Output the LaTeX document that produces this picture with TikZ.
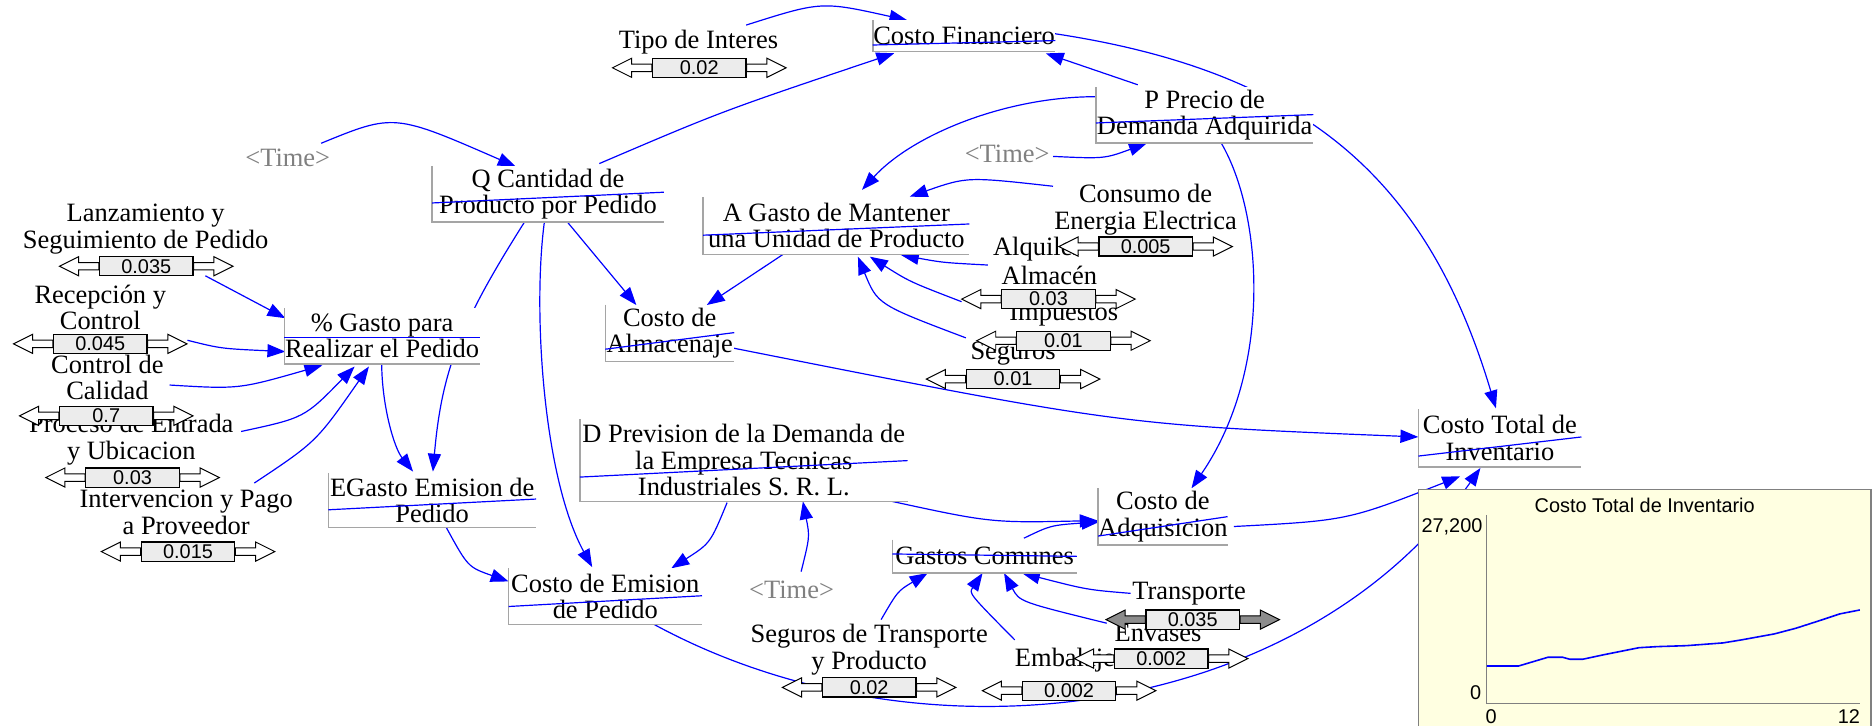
\documentclass[tikz,border=0pt]{standalone}
\usepackage{fontspec}
\setmainfont{Liberation Serif}
\newfontfamily\sansvals{Liberation Sans}
\usetikzlibrary{arrows.meta}
\pgfdeclarelayer{links}
\pgfsetlayers{links,main}

\definecolor{lnkblue}{RGB}{0,0,255}
\definecolor{plotbg}{RGB}{255,255,225}
\definecolor{boxgray}{RGB}{165,165,165}
\definecolor{timegray}{RGB}{128,128,128}
\definecolor{valbox}{RGB}{236,236,236}
\definecolor{knobgray}{RGB}{140,140,140}

\newcommand\varfont{\fontsize{13.3}{13.3}\selectfont}
\newcommand\valfont{\sansvals\fontsize{10}{10}\selectfont}
\newcommand\plotfont{\sansvals\fontsize{10}{10}\selectfont}

\tikzset{
  vbox/.style={rectangle, inner sep=0pt, outer sep=0pt, fill=white, font=\varfont, align=center},
  vsize/.style n args={2}{minimum width=#1*0.6pt, minimum height=#2*0.6pt},
  lbl/.style={inner sep=0pt, font=\varfont, align=center},
  timelbl/.style={lbl, text=timegray},
  lnk/.style={draw=lnkblue, line width=0.6pt, -{Triangle[length=9pt,width=6.6pt]}},
  edgeL/.style={draw=boxgray, line width=0.8pt},
  strike/.style={draw=lnkblue, line width=0.6pt},
  valnode/.style={rectangle, draw=black, line width=0.6pt, fill=valbox,
    minimum width=47pt, minimum height=9.6pt, inner sep=0pt, font=\valfont},
  sarrow/.style={draw=black, line width=0.5pt},
  plotlbl/.style={inner sep=0pt, font=\plotfont},
}

% slider: value box with a hollow double arrow on both sides
\newcommand\slider[5][white]{%
  \node[valnode] (#2) at (#3,#4) {#5};
  \path[sarrow, fill=#1] ([shift={(0,-3.1)}]#2.west) -- ++(-17,0) -- ++(0,-4.9)
    -- ++(-16,8) -- ++(16,8) -- ++(0,-4.9) -- ++(17,0) -- cycle;
  \path[sarrow, fill=#1] ([shift={(0,-3.1)}]#2.east) -- ++(17,0) -- ++(0,-4.9)
    -- ++(16,8) -- ++(-16,8) -- ++(0,-4.9) -- ++(-17,0) -- cycle;
}

\begin{document}
\begin{tikzpicture}[x=0.6pt, y=-0.6pt]
\useasboundingbox (0,0) rectangle (1568,608);

% ---------- auxiliary variables ----------
\node[vbox, vsize={153}{26}]   (cf)  at (807.5,30)    {Costo Financiero};
\node[vbox, vsize={182}{47}]   (pp)  at (1009,96.5)   {P Precio de\\Demanda Adquirida};
\node[vbox, vsize={194}{47}]   (q)   at (459,162.5)   {Q Cantidad de\\Producto por Pedido};
\node[vbox, vsize={223}{48}]   (ag)  at (700.5,189)   {A Gasto de Mantener\\una Unidad de Producto};
\node[vbox, vsize={163.5}{47}] (pg)  at (320,281.5)   {\% Gasto para\\Realizar el Pedido};
\node[vbox, vsize={108}{47.5}] (ca)  at (561,279)     {Costo de\\Almacenaje};
\node[vbox, vsize={174}{46}]   (eg)  at (362,419)     {EGasto Emision de\\Pedido};
\node[vbox, vsize={162}{47}]   (ce)  at (507,499.5)   {Costo de Emision\\de Pedido};
\node[vbox, vsize={274.5}{69}] (dp)  at (623,385.5)   {D Prevision de la Demanda de\\la Empresa Tecnicas\\Industriales S. R. L.};
\node[vbox, vsize={108}{47.5}] (cad) at (974,432.75)  {Costo de\\Adquisicion};
\node[vbox, vsize={154.6}{28}] (gc)  at (824.7,466)   {Gastos Comunes};
\node[vbox, vsize={136.6}{48.4}] (ct) at (1256.3,366.8) {Costo Total de\\Inventario};

\foreach \n in {cf,pp,q,ag,pg,ca,eg,ce,dp,cad,gc,ct}
  \draw[edgeL] (\n.north west) |- (\n.south east);

\draw[strike] ([shift={(0,7.7)}]cf.west)   -- ([shift={(0,4)}]cf.east);
\draw[strike] ([shift={(0,6.5)}]pp.west)   -- ([shift={(0,-0.5)}]pp.east);
\draw[strike] ([shift={(0,7.5)}]q.west)    -- ([shift={(0,-1.5)}]q.east);
\draw[strike] ([shift={(0,8)}]ag.west)     -- ([shift={(0,-1.4)}]ag.east);
\draw[strike] ([shift={(0,1.5)}]pg.west)   -- ([shift={(0,1.5)}]pg.east);
\draw[strike] ([shift={(0,13.5)}]ca.west)  -- ([shift={(0,-0.4)}]ca.east);
\draw[strike] ([shift={(0,8)}]eg.west)     -- ([shift={(0,-1)}]eg.east);
\draw[strike] ([shift={(0,8.5)}]ce.west)   -- ([shift={(0,-0.5)}]ce.east);
\draw[strike] ([shift={(0,14.1)}]dp.west)  -- ([shift={(0,0.3)}]dp.east);
\draw[strike] ([shift={(0,16.25)}]cad.west) -- ([shift={(0,0)}]cad.east);
\draw[strike] ([shift={(0,-2)}]gc.west)    -- ([shift={(0,0)}]gc.east);
\draw[strike] ([shift={(0,15.2)}]ct.west)  -- ([shift={(0,-0.8)}]ct.east);

% ---------- constants and shadow variables ----------
\node[lbl] (ti)  at (585,35)      {Tipo de Interes};
\node[lbl] (lz)  at (122,192)     {Lanzamiento y\\Seguimiento de Pedido};
\node[lbl] (rc)  at (84,257.5)    {Recepción y\\Control};
\node[lbl] (cc)  at (90,316)      {Control de\\Calidad};
\node[lbl] (pe)  at (110,368.4)   {Proceso de Entrada\\y Ubicacion};
\node[lbl] (ip)  at (156,429)     {Intervencion y Pago\\a Proveedor};
\node[lbl] (ee)  at (959.5,175.6) {Consumo de\\Energia Electrica};
\node[lbl, anchor=west] (alq) at (831.5,209) {Alquiler};
\node[lbl] (alm) at (879,231)     {Almacén};
\node[lbl] (im)  at (891,263.8)   {Impuestos};
\node[lbl] (sg)  at (848.6,295.8) {Seguros};
\node[lbl] (st)  at (728,544)     {Seguros de Transporte\\y Producto};
\node[lbl] (tr)  at (996,497)     {Transporte};
\node[lbl] (ev)  at (970,530)     {Envases};
\node[lbl] (em)  at (892,553)     {Embalaje};
\node[timelbl] (t1) at (241,132)   {<Time>};
\node[timelbl] (t2) at (843.6,128.5) {<Time>};
\node[timelbl] (t3) at (663,494)   {<Time>};

% ---------- sliders ----------
\slider{sti}{585.7}{56.8}{0.02}
\slider{slz}{122.5}{223}{0.035}
\slider{src}{84}{288}{0.045}
\slider{scc}{89}{348.3}{0.7}
\slider{spe}{111}{400}{0.03}
\slider{sip}{157.5}{462}{0.015}
\slider{see}{959.6}{206.5}{0.005}
\slider{salq}{878.2}{250.5}{0.03}
\slider{sim}{890.7}{285.4}{0.01}
\slider{ssg}{848.5}{317.5}{0.01}
\slider{sst}{728}{575.8}{0.02}
\slider[knobgray]{str}{999}{519}{0.035}
\slider{sev}{972.6}{551.6}{0.002}
\slider{sem}{895.5}{578.5}{0.002}

% ---------- graph of Costo Total de Inventario ----------
\filldraw[fill=plotbg, draw=timegray, line width=0.8pt] (1188,410) rectangle (1567,612);
\node[plotlbl] (ptitle) at (1377.6,423) {Costo Total de Inventario};
\draw[timegray, line width=0.6pt] (1245.3,431.3) -- (1245.3,589) -- (1557.9,589);
\node[plotlbl, anchor=east] (ymax) at (1242,441)   {27,200};
\node[plotlbl, anchor=east] (ymin) at (1241,580.5) {0};
\node[plotlbl] (xmin) at (1249,600)   {0};
\node[plotlbl] (xmax) at (1548.6,600) {12};
\draw[lnkblue, line width=0.8pt] plot coordinates {
  (1245.3,557.8) (1272.1,557.8) (1296.6,550.5) (1308.8,550.5) (1314.9,552.2)
  (1325.6,552.2) (1342.4,548.6) (1372.9,542.5) (1388.2,541.6) (1412.6,540.8)
  (1443.2,538.5) (1458.5,536) (1486,531) (1504.3,526.2) (1525.7,519.3)
  (1541,514.2) (1557.8,510.9)};

% ---------- causal links ----------
\begin{pgfonlayer}{links}
\draw[lnk] ([shift={(40,-14)}]ti.center) .. controls (688,1) .. ([shift={(-47.5,-13)}]cf.center);
\draw[lnk] ([shift={(43,-25.5)}]q.center) .. controls (604.5,93.2) .. ([shift={(-58.5,14.6)}]cf.center);
\draw[lnk] ([shift={(-56,-25.5)}]pp.center) -- ([shift={(68.5,14.7)}]cf.center);
\draw[lnk] ([shift={(74.5,-2)}]cf.center) .. controls (1090.7,59.3) and (1194.7,147.2) .. ([shift={(-3.3,-24.8)}]ct.center);
\draw[lnk] ([shift={(-91.5,-15.5)}]pp.center) .. controls (843.3,81) and (765,112.2) .. ([shift={(21.5,-30)}]ag.center);
\draw[lnk] ([shift={(38.4,2.5)}]t2.center) .. controls (925,133) .. ([shift={(-48.4,23.5)}]pp.center);
\draw[lnk] ([shift={(14,23.5)}]pp.center) .. controls (1058,180) and (1066,310) .. ([shift={(24,-23.75)}]cad.center);
\draw[lnk] ([shift={(28,-12)}]t1.center) .. controls (330,95) .. ([shift={(-27,-23)}]q.center);
\draw[lnk] ([shift={(50,39)}]lz.center) -- ([shift={(-81,-15)}]pg.center);
\draw[lnk] ([shift={(73,27.5)}]rc.center) .. controls (185,292) .. ([shift={(-81,13)}]pg.center);
\draw[lnk] ([shift={(52,6.5)}]cc.center) .. controls (200,326) .. ([shift={(-50,24.5)}]pg.center);
\draw[lnk] ([shift={(92,-7)}]pe.center) .. controls (255,350) .. ([shift={(-23,25.5)}]pg.center);
\draw[lnk] ([shift={(57,-24.4)}]ip.center) .. controls (265,370) .. ([shift={(-11,25.5)}]pg.center);
\draw[lnk] ([shift={(-20,24)}]q.center) .. controls (385.6,271) and (370,310) .. ([shift={(0.6,-24)}]eg.center);
\draw[lnk] ([shift={(-0.3,23.5)}]pg.center) .. controls (320,340) and (330,375) .. ([shift={(-16,-24)}]eg.center);
\draw[lnk] ([shift={(-3,23.2)}]q.center) .. controls (446,260) and (455,400) .. ([shift={(-11,-24.5)}]ce.center);
\draw[lnk] ([shift={(16,23.2)}]q.center) -- ([shift={(-28,-23.5)}]ca.center);
\draw[lnk] ([shift={(-43,23)}]ag.center) -- ([shift={(31,-23.5)}]ca.center);
\draw[lnk] ([shift={(-77.5,-19.6)}]ee.center) .. controls (810,148) .. ([shift={(61.5,-24.3)}]ag.center);
\draw[lnk] ([shift={(-4,13)}]alq.west) .. controls (790,220) .. ([shift={(54.1,24.6)}]ag.center);
\draw[lnk] ([shift={(-85.6,-11.1)}]im.center) .. controls (762,236) .. ([shift={(28.1,26)}]ag.center);
\draw[lnk] ([shift={(-39.6,-12.8)}]sg.center) .. controls (735,255) .. ([shift={(18.1,26)}]ag.center);
\draw[lnk] ([shift={(53.8,12.7)}]ca.center) .. controls (940,356) .. ([shift={(-68.3,-0.8)}]ct.center);
\draw[lnk] ([shift={(11.9,23)}]eg.center) .. controls (392,475) .. ([shift={(-81,-12.5)}]ce.center);
\draw[lnk] ([shift={(-14,35.5)}]dp.center) .. controls (595,455) .. ([shift={(55.3,-23.5)}]ce.center);
\draw[lnk] ([shift={(8,-15.2)}]t3.center) .. controls (678.3,449.6) .. ([shift={(49.5,34.5)}]dp.center);
\draw[lnk] ([shift={(118.8,33.3)}]dp.center) .. controls (830,438) .. ([shift={(-54.6,3.25)}]cad.center);
\draw[lnk] ([shift={(32.9,-15.2)}]gc.center) .. controls (880,440) .. ([shift={(-53,4.25)}]cad.center);
\draw[lnk] ([shift={(59.5,8.25)}]cad.center) .. controls (1128.6,436) .. ([shift={(-33.3,32.2)}]ct.center);
\draw[lnk] ([shift={(39,22.5)}]ce.center) .. controls (770,645) and (1090,605) .. ([shift={(-16.3,25.2)}]ct.center);
\draw[lnk] ([shift={(10,-25)}]st.center) .. controls (752,495) .. ([shift={(-47.7,14)}]gc.center);
\draw[lnk] ([shift={(-42,-17)}]em.center) .. controls (811.5,497) .. ([shift={(-1.7,14)}]gc.center);
\draw[lnk] ([shift={(-43,-8)}]ev.center) .. controls (854,504) .. ([shift={(16.3,14)}]gc.center);
\draw[lnk] ([shift={(-49,0)}]tr.center) .. controls (910.5,494) .. ([shift={(31.3,14)}]gc.center);
\end{pgfonlayer}
\end{tikzpicture}
\end{document}
